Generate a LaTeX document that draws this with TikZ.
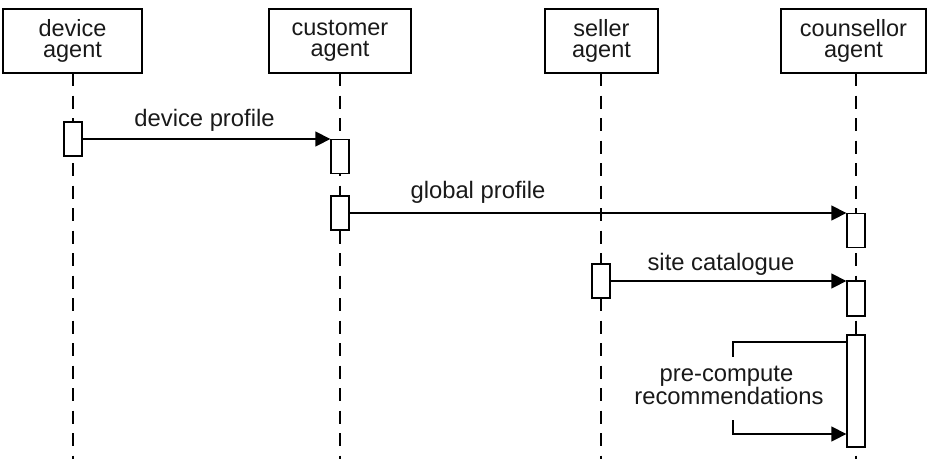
\documentclass[tikz,border=0pt]{standalone}
\usepackage{fontspec}
\setmainfont{Liberation Sans}
\usetikzlibrary{arrows.meta}
\tikzset{
  header/.style={draw, line width=1.3pt, minimum height=64pt, inner sep=0pt, align=center, font=\fontsize{23.5}{20.5}\selectfont, text=black!90},
  act/.style={draw, fill=white, line width=1.3pt, minimum width=18pt, inner sep=0pt},
  life/.style={line width=1.3pt, dash pattern=on 13pt off 9.5pt},
  msg/.style={line width=1.3pt, -{Triangle[length=15pt,width=15pt]}},
  lbl/.style={anchor=base, inner sep=0pt, font=\fontsize{23.8}{22}\selectfont, text=black!90}
}
\begin{document}
\begin{tikzpicture}[x=1pt,y=-1pt]
\useasboundingbox (0,0) rectangle (927,459);
% headers
\node[header, minimum width=139pt] (h1) at (72.5,41) {device\\agent};
\node[header, minimum width=142pt] (h2) at (340,41) {customer\\agent};
\node[header, minimum width=113pt] (h3) at (601.5,41) {seller\\agent};
\node[header, minimum width=145pt] (h4) at (853.5,41) {counsellor\\agent};
% lifeline ends
\coordinate (t1) at (73,73);  \coordinate (e1) at (73,459);
\coordinate (t2) at (340,73); \coordinate (e2) at (340,459);
\coordinate (t3) at (601,73); \coordinate (e3) at (601,459);
\coordinate (t4) at (856,73); \coordinate (e4) at (856,459);
\draw[life] (t1) -- (e1);
\draw[life] (t2) -- (e2);
\draw[life] (t3) -- (e3);
\draw[life] (t4) -- (e4);
% activation boxes
\node[act, minimum height=34pt] (d1) at (73,139) {};
\node[act, minimum height=34pt] (c1) at (340,156.3) {};
\node[act, minimum height=34pt] (c2) at (340,213) {};
\node[act, minimum height=34pt] (s1) at (601,281) {};
\node[act, minimum height=34pt] (n1) at (856,230.3) {};
\node[act, minimum height=35pt] (n2) at (856,298.5) {};
\node[act, minimum height=112pt] (n3) at (856,391) {};
% messages
\draw[msg] (d1.east) -- (d1.east -| c1.west);
\node[lbl] (l1) at (204.5,126.7) {device profile};
\draw[msg] (c2.east) -- (c2.east -| n1.west);
\node[lbl] (l2) at (478,198.3) {global profile};
\draw[msg] (s1.east) -- (s1.east -| n2.west);
\node[lbl] (l3) at (721,270.7) {site catalogue};
% self call
\coordinate (sc1) at (733,342);
\coordinate (sc2) at (733,357);
\coordinate (sc3) at (733,420);
\coordinate (sc4) at (733,434);
\draw[line width=1.3pt] (n3.west |- sc1) -- (sc1) -- (sc2);
\draw[msg] (sc3) -- (sc4) -- (n3.west |- sc4);
\node[lbl] (p1) at (726.5,381.7) {pre-compute};
\node[lbl] (p2) at (729,404) {recommendations};
\end{tikzpicture}
\end{document}
